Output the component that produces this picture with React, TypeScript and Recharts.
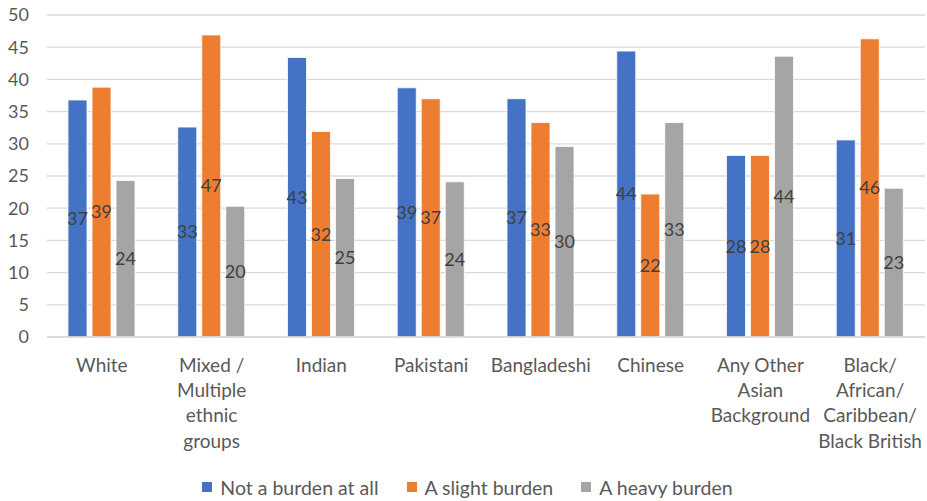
import React from "react";
import { BarChart, Bar, XAxis, YAxis, CartesianGrid, Legend, LabelList } from "recharts";

const categories = [
  "White",
  "Mixed / Multiple ethnic groups",
  "Indian",
  "Pakistani",
  "Bangladeshi",
  "Chinese",
  "Any Other Asian Background",
  "Black/ African/ Caribbean/ Black British",
];
const categoryLines: string[][] = [
  ["White"],
  ["Mixed /", "Multiple", "ethnic", "groups"],
  ["Indian"],
  ["Pakistani"],
  ["Bangladeshi"],
  ["Chinese"],
  ["Any Other", "Asian", "Background"],
  ["Black/", "African/", "Caribbean/", "Black British"],
];
const seriesNames = ["Not a burden at all", "A slight burden", "A heavy burden"];
const seriesColors = ["#4472C4", "#ED7D31", "#A5A5A5"];
const notBurden = [36.8, 32.6, 43.4, 38.7, 37.0, 44.4, 28.2, 30.6];
const slightBurden = [38.8, 46.9, 31.9, 37.0, 33.3, 22.2, 28.2, 46.3];
const heavyBurden = [24.3, 20.3, 24.6, 24.1, 29.6, 33.3, 43.6, 23.1];
const yTicks = [0, 5, 10, 15, 20, 25, 30, 35, 40, 45, 50];

const data = categories.map((c, i) => ({
  name: c,
  notBurden: notBurden[i],
  slightBurden: slightBurden[i],
  heavyBurden: heavyBurden[i],
}));

const FONT = "Lato, 'Noto Sans', sans-serif";

const XTick = (props: any) => {
  const { x, y, payload } = props;
  const idx = categories.indexOf(payload.value);
  const lines = categoryLines[idx] || [payload.value];
  return (
    <text x={x} y={y} textAnchor="middle" fill="#595959" fontSize={19} fontFamily={FONT}>
      {lines.map((l, i) => (
        <tspan key={i} x={x} y={y + 6 + i * 25.3} dy="0.355em">
          {l}
        </tspan>
      ))}
    </text>
  );
};

const LegendContent = () => (
  <div
    style={{
      display: "flex",
      justifyContent: "center",
      alignItems: "center",
      fontFamily: FONT,
      fontSize: 19.5,
      color: "#595959",
      height: 24,
      paddingLeft: 10,
    }}
  >
    {seriesNames.map((n, i) => (
      <div key={n} style={{ display: "flex", alignItems: "center", marginRight: i < 2 ? 28 : 0 }}>
        <span style={{ display: "inline-block", width: 10, height: 10, background: seriesColors[i], marginRight: 8 }} />
        <span>{n}</span>
      </div>
    ))}
  </div>
);

const fmt = (v: any) => Math.round(Number(v));

export default function App() {
  return (
    <div style={{ position: "absolute", left: 0, top: 0, width: 927, height: 501, background: "#fff" }}>
      <BarChart
        width={927}
        height={501}
        data={data}
        margin={{ top: 15, right: 2, bottom: 2, left: 0 }}
        barGap={5}
        barSize={19}
      >
        <CartesianGrid vertical={false} stroke="#d9d9d9" strokeWidth={1.3} />
        <XAxis
          dataKey="name"
          axisLine={{ stroke: "#d9d9d9", strokeWidth: 1.3 }}
          tickLine={false}
          tick={<XTick />}
          interval={0}
          height={138}
          tickSize={0}
          tickMargin={22}
        />
        <YAxis
          domain={[0, 50]}
          ticks={yTicks}
          axisLine={false}
          tickLine={false}
          width={47}
          tickSize={0}
          tickMargin={18}
          tick={{ fill: "#595959", fontSize: 18, fontFamily: FONT }}
          interval={0}
        />
        <Legend verticalAlign="bottom" align="center" content={<LegendContent />} />
        <Bar dataKey="notBurden" name={seriesNames[0]} fill={seriesColors[0]} stroke="#fff" strokeWidth={0.8} isAnimationActive={false}>
          <LabelList dataKey="notBurden" position="center" formatter={fmt} fill="#404040" fontSize={18} fontFamily={FONT} />
        </Bar>
        <Bar dataKey="slightBurden" name={seriesNames[1]} fill={seriesColors[1]} stroke="#fff" strokeWidth={0.8} isAnimationActive={false}>
          <LabelList dataKey="slightBurden" position="center" formatter={fmt} fill="#404040" fontSize={18} fontFamily={FONT} />
        </Bar>
        <Bar dataKey="heavyBurden" name={seriesNames[2]} fill={seriesColors[2]} stroke="#fff" strokeWidth={0.8} isAnimationActive={false}>
          <LabelList dataKey="heavyBurden" position="center" formatter={fmt} fill="#404040" fontSize={18} fontFamily={FONT} />
        </Bar>
      </BarChart>
    </div>
  );
}
